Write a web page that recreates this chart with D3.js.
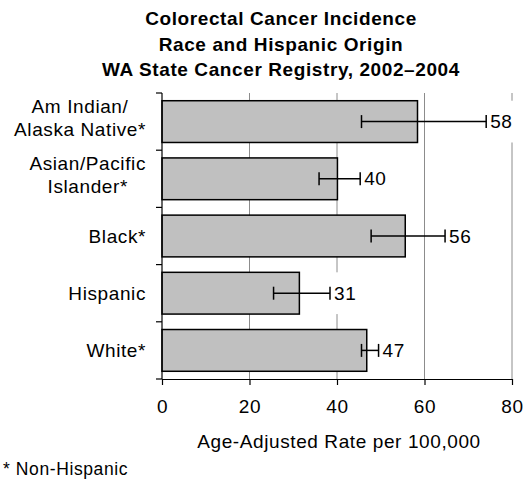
<!DOCTYPE html>
<html>
<head>
<meta charset="utf-8">
<script src="https://cdn.jsdelivr.net/npm/d3@7"></script>
<style>
  body { margin: 0; background: #fff; }
  svg { font-family: Arial, "Liberation Sans", sans-serif; }
</style>
</head>
<body>
<div id="chart"></div>
<script>
// chart data
const categories = ["Am Indian/Alaska Native*", "Asian/Pacific Islander*", "Black*", "Hispanic", "White*"];
const categoryLines = [["Am Indian/", "Alaska Native*"], ["Asian/Pacific", "Islander*"], ["Black*"], ["Hispanic"], ["White*"]];
const rates = [58.4, 40.1, 55.6, 31.4, 46.8];
const ciLow = [45.6, 35.9, 47.8, 25.5, 45.6];
const ciHigh = [74.1, 45.3, 64.7, 38.4, 49.5];
const xTicks = [0, 20, 40, 60, 80];
const titleLines = ["Colorectal Cancer Incidence", "Race and Hispanic Origin", "WA State Cancer Registry, 2002\u20132004"];

const data = categories.map((c, i) => ({ cat: c, lines: categoryLines[i], rate: rates[i], lo: ciLow[i], hi: ciHigh[i] }));

const W = 526, H = 483;
const plot = { left: 162, right: 512, top: 93, bottom: 379 };
const fs = "19px", ls = "0.6px";

const svg = d3.select("#chart")
    .append("svg")
    .attr("width", W)
    .attr("height", H);

// scales
const x = d3.scaleLinear()
    .domain([0, 80])
    .range([plot.left, plot.right]);

const y = d3.scaleBand()
    .domain(categories)
    .range([plot.top, plot.bottom])
    .paddingInner(0.27)
    .paddingOuter(0.135);

// title
svg.append("g")
    .selectAll("text")
    .data(titleLines)
    .join("text")
    .attr("x", 281)
    .attr("y", (d, i) => 25 + i * 25.5)
    .attr("text-anchor", "middle")
    .style("font-size", "19px")
    .style("font-weight", "bold")
    .style("letter-spacing", "0.6px")
    .text(d => d);

// gridlines
svg.append("g")
    .selectAll("line")
    .data(xTicks.filter(d => d > 0))
    .join("line")
    .attr("x1", d => x(d)).attr("x2", d => x(d))
    .attr("y1", plot.top).attr("y2", plot.bottom)
    .attr("stroke", "#8c8c8c")
    .attr("stroke-width", 1);

// bars
svg.append("g")
    .selectAll("rect")
    .data(data)
    .join("rect")
    .attr("x", x(0))
    .attr("y", d => y(d.cat))
    .attr("width", d => x(d.rate) - x(0))
    .attr("height", y.bandwidth())
    .attr("fill", "#c0c0c0")
    .attr("stroke", "#000")
    .attr("stroke-width", 1.5);

// error bars
const err = svg.append("g")
    .attr("stroke", "#000")
    .attr("stroke-width", 1.5);
data.forEach(d => {
    const cy = y(d.cat) + y.bandwidth() / 2;
    err.append("line")
        .attr("x1", x(d.lo)).attr("x2", x(d.hi))
        .attr("y1", cy).attr("y2", cy);
    [d.lo, d.hi].forEach(v => {
        err.append("line")
            .attr("x1", x(v)).attr("x2", x(v))
            .attr("y1", cy - 6.5).attr("y2", cy + 6.5);
    });
});

// value labels (white box behind, like the original)
const labels = svg.append("g");
data.forEach(d => {
    const cy = y(d.cat) + y.bandwidth() / 2;
    const lx = x(d.hi) + 4;
    const bg = labels.append("rect").attr("fill", "#fff");
    const t = labels.append("text")
        .attr("x", lx)
        .attr("y", cy)
        .attr("dy", "0.35em")
        .style("font-size", fs)
        .style("letter-spacing", ls)
        .text(d3.format(".0f")(d.rate));
    const w = t.node().getComputedTextLength();
    bg.attr("x", lx - 1).attr("width", w + 3)
        .attr("y", y(d.cat)).attr("height", y.bandwidth());
});

// left axis with ticks at category boundaries
const step = y.step();
const bounds = d3.range(categories.length + 1).map(i => plot.top + i * step);
const yAxis = svg.append("g").attr("stroke", "#000").attr("stroke-width", 1.2);
yAxis.append("line")
    .attr("x1", plot.left).attr("x2", plot.left)
    .attr("y1", plot.top).attr("y2", plot.bottom);
yAxis.selectAll("line.tick")
    .data(bounds)
    .join("line")
    .attr("class", "tick")
    .attr("x1", plot.left - 6).attr("x2", plot.left)
    .attr("y1", d => d).attr("y2", d => d);

// bottom axis
const xAxis = svg.append("g")
    .attr("transform", `translate(0, ${plot.bottom})`)
    .call(d3.axisBottom(x).tickValues(xTicks).tickSize(6).tickPadding(15).tickSizeOuter(0));
xAxis.select(".domain").attr("stroke", "#000").attr("stroke-width", 1.2);
xAxis.selectAll(".tick line").attr("stroke", "#000").attr("stroke-width", 1.2);
xAxis.selectAll(".tick text")
    .style("font-size", fs)
    .style("letter-spacing", ls)
    .style("font-family", "Arial, 'Liberation Sans', sans-serif")
    .attr("fill", "#000");

// category labels, lines centred with each other, block right-aligned
const catG = svg.append("g");
data.forEach(d => {
    const cy = y(d.cat) + y.bandwidth() / 2;
    const lh = 22.5;
    const g = catG.append("g");
    const texts = d.lines.map((ln, j) => g.append("text")
        .attr("y", cy + (j - (d.lines.length - 1) / 2) * lh - (d.lines.length > 1 ? 4 : 0))
        .attr("dy", "0.35em")
        .attr("text-anchor", "middle")
        .style("font-size", fs)
        .style("letter-spacing", ls)
        .text(ln));
    const maxW = d3.max(texts, t => t.node().getComputedTextLength());
    texts.forEach(t => t.attr("x", 146 - maxW / 2));
});

// axis title
svg.append("text")
    .attr("x", 339)
    .attr("y", 448)
    .attr("text-anchor", "middle")
    .style("font-size", fs)
    .style("letter-spacing", ls)
    .text("Age-Adjusted Rate per 100,000");

// footnote
svg.append("text")
    .attr("x", 3)
    .attr("y", 475)
    .style("font-size", "17.5px")
    .style("letter-spacing", ls)
    .text("* Non-Hispanic");
</script>
</body>
</html>
